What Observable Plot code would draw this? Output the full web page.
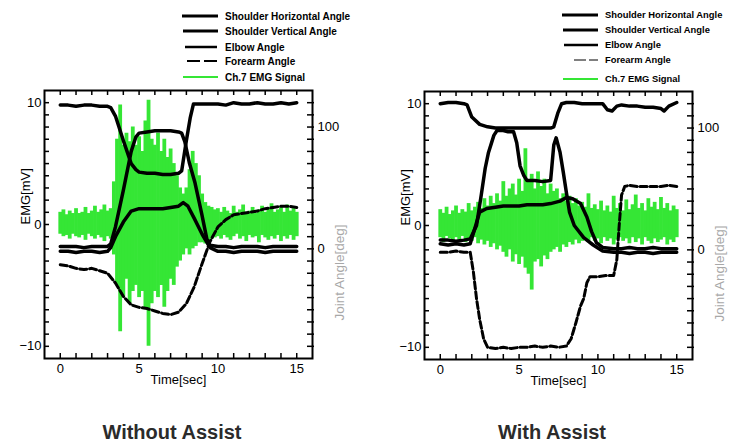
<!DOCTYPE html>
<html>
<head>
<meta charset="utf-8">
<script src="https://cdn.jsdelivr.net/npm/d3@7"></script>
<script src="https://cdn.jsdelivr.net/npm/@observablehq/plot@0.6"></script>
<style>
html,body{margin:0;padding:0;background:#fff}
#root{position:relative;width:733px;height:444px;overflow:hidden;font-family:"Liberation Sans",Arial,Helvetica,sans-serif}
#root svg{position:absolute}
</style>
</head>
<body>
<div id="root"></div>
<script>
// ---------------- text ----------------
const legendLabels = ["Shoulder Horizontal Angle", "Shoulder Vertical Angle", "Elbow Angle", "Forearm Angle", "Ch.7 EMG Signal"];
const captions = ["Without Assist", "With Assist"];
const emgTitle = "EMG[mV]";
const angleTitle = "Joint Angle[deg]";
const timeTitle = "Time[sec]";
const timeTickLabels = [0, 5, 10, 15];
const emgTickLabels = [-10, 0, 10];
const angleTickLabels = [0, 100];

// ---------------- Without Assist: joint angles [deg] ----------------
const woShHT = [0,0.5,1,1.5,2,2.5,3,3.2,3.5,4,4.5,4.8,5,5.5,6,6.5,7,7.5,7.7,8,8.25,8.45,9,9.5,10,10.5,11,11.5,12,12.5,13,13.5,14,14.5,15];
const woShH  = [118,118,117,118,118,117,117,116,109,89,70,65,63,62,62,61,61,62,64,89,108,119,119,119,119,118,120,119,119,120,119,119,120,119,120];
const woShVT = [0,0.5,1,1.5,2,2.5,3,3.2,3.5,4,4.5,5,5.5,6,6.5,7,7.5,7.8,8.1,8.5,9,9.5,10,10.5,11,11.5,12,12.5,13,13.5,14,14.5,15];
const woShV  = [-2,-2,-3,-2,-2,-3,-2,1,10,22,31,33,33,33,33,34,35,38,35,25,12,1,-2,-2,-3,-2,-2,-2,-3,-2,-2,-2,-2];
const woElbT = [0,0.5,1,1.5,2,2.5,3,3.2,3.5,4,4.5,4.8,5,5.5,6,6.5,7,7.5,7.7,7.9,8.2,8.55,8.97,9.3,9.5,10,10.5,11,11.5,12,12.5,13,13.5,14,14.5,15];
const woElb  = [2,2,2,1,2,2,2,4,18,48,80,92,95,96,97,97,97,96,95,88,70,54,29,8,3,2,2,1,2,2,2,1,2,2,2,2];
const woForT = [0,0.5,1,1.5,2,2.5,3,3.5,4,4.5,5,5.5,6,6.5,7,7.5,8,8.5,9,9.5,10,10.5,11,11.5,12,12.5,13,13.5,14,14.5,15];
const woFor  = [-13,-14,-16,-17,-16,-18,-20,-28,-39,-46,-48,-49,-51,-53,-54,-52,-45,-31,-12,6,18,24,28,29,30,31,33,34,35,35,34];

// ---------------- With Assist: joint angles [deg] ----------------
const wShHT = [0,0.5,1,1.5,1.7,2,2.5,3,3.5,4,4.5,5,5.5,6,6.5,7,7.2,7.45,7.7,8,8.5,9,9.5,10,10.3,10.6,10.9,11.2,11.5,12,12.5,13,13.5,14,14.2,14.5,15];
const wShH  = [120,121,121,120,119,109,103,101,100,100,100,100,100,100,100,100,101,112,120,121,121,120,120,120,120,115,114,118,119,118,118,117,117,116,114,118,121];
const wShVT = [0,0.5,1,1.5,1.9,2.2,2.5,2.95,3.5,4,4.5,5,5.5,6,6.5,7,7.6,8,8.4,8.9,9.3,9.6,9.9,10.3,11,11.5,12,12.5,13,13.5,14,14.5,15];
const wShV  = [5,4,5,4,5,18,31,34,35,36,36,36,37,37,37,38,40,43,42,38,27,15,6,2,1,1,2,1,1,2,1,1,1];
const wElbT = [0,0.5,1,1.5,1.9,2.3,2.6,2.85,3.06,3.4,3.6,4,4.3,4.65,4.85,5.06,5.3,5.5,6,6.5,7,7.07,7.2,7.35,7.6,7.8,8,8.2,8.5,9.1,9.7,10.3,11,11.5,12,12.5,13,13.5,14,14.5,15];
const wElb  = [8,8,7,8,9,20,45,67,80,94,98,98,97,97,88,69,61,57,57,56,57,67,86,92,80,64,47,31,20,10,4,-1,-2,-2,-3,-2,-2,-3,-2,-2,-2];
const wForT = [0,0.5,1,1.5,1.9,2.1,2.3,2.5,2.75,3,3.5,4,4.5,5,5.5,6,6.5,7,7.5,8,8.3,8.6,8.9,9.1,9.3,9.5,10,10.5,11,11.2,11.35,11.5,11.7,12,12.5,13,13.5,14,14.5,15];
const wFor  = [-2,-2,-1,-2,-2,-18,-40,-57,-73,-80,-81,-80,-81,-80,-80,-79,-80,-79,-80,-79,-73,-60,-46,-40,-27,-22,-22,-21,-21,-8,20,45,52,53,52,52,52,52,53,52];

// ---------------- Ch.7 EMG envelope [mV], sampled every 0.2 s ----------------
const emgTime = [0,0.2,0.4,0.6,0.8,1,1.2,1.4,1.6,1.8,2,2.2,2.4,2.6,2.8,3,3.2,3.4,3.6,3.8,4,4.2,4.4,4.6,4.8,5,5.2,5.4,5.6,5.8,6,6.2,6.4,6.6,6.8,7,7.2,7.4,7.6,7.8,8,8.2,8.4,8.6,8.8,9,9.2,9.4,9.6,9.8,10,10.2,10.4,10.6,10.8,11,11.2,11.4,11.6,11.8,12,12.2,12.4,12.6,12.8,13,13.2,13.4,13.6,13.8,14,14.2,14.4,14.6,14.8,15];
const woEmgHi = [1.0,1.2,0.8,1.1,0.9,1.3,0.9,1.0,1.4,0.9,1.1,1.5,1.0,1.2,1.6,1.1,1.3,3.5,7.0,9.8,6.5,7.5,6.8,8.0,6.5,7.2,6.0,8.5,10.2,7.0,6.5,7.5,6.0,7.0,5.5,6.2,5.0,4.0,3.0,2.5,3.0,4.5,6.0,5.0,4.0,2.5,1.8,1.5,1.4,1.2,1.3,1.0,1.4,1.1,0.9,1.5,1.0,1.2,1.6,1.0,1.1,1.4,0.9,1.2,1.5,1.0,1.3,1.7,1.0,1.2,1.4,1.0,1.6,1.1,1.3,1.0];
const woEmgLo = [-0.8,-1.0,-0.9,-1.2,-0.8,-1.0,-1.1,-0.9,-1.3,-0.8,-1.0,-1.2,-0.9,-1.1,-1.4,-1.0,-1.2,-2.5,-5.0,-8.8,-6.0,-4.5,-6.5,-5.5,-5.0,-6.0,-5.5,-7.0,-10.0,-6.5,-5.5,-6.0,-5.0,-6.8,-5.5,-4.5,-5.0,-3.5,-3.0,-2.5,-2.0,-2.5,-2.0,-1.8,-1.5,-1.5,-1.6,-1.4,-1.2,-1.1,-1.0,-1.2,-0.9,-1.1,-1.3,-1.0,-0.8,-1.2,-1.0,-1.4,-0.9,-1.1,-1.0,-1.5,-0.9,-1.1,-1.3,-1.0,-1.2,-0.9,-1.4,-1.0,-1.2,-0.9,-1.3,-1.0];
const wEmgHi = [1.3,1.0,1.5,0.9,1.2,1.6,1.0,1.3,1.1,1.8,1.2,1.5,1.9,1.4,2.2,1.6,2.4,1.8,2.6,2.0,3.6,2.4,3.0,3.4,2.5,3.8,2.8,6.3,3.6,4.2,3.0,4.4,3.2,3.8,2.6,3.4,2.8,3.0,2.2,2.6,2.0,2.4,1.8,2.2,1.6,1.9,1.5,2.6,1.4,1.7,1.3,2.0,1.2,1.6,1.1,2.4,1.4,1.8,1.2,2.1,1.3,1.7,2.5,1.4,1.8,1.2,2.2,1.5,1.9,1.3,2.3,1.4,1.8,1.2,1.6,1.3];
const wEmgLo = [-1.0,-1.4,-0.9,-1.1,-1.3,-1.0,-1.2,-0.9,-1.4,-1.1,-1.3,-1.0,-1.5,-1.2,-1.6,-1.3,-1.8,-1.5,-2.0,-1.7,-2.2,-2.6,-2.0,-3.0,-2.4,-3.2,-2.6,-3.5,-4.0,-5.3,-3.0,-2.8,-3.4,-2.5,-2.8,-2.2,-2.0,-1.8,-2.2,-1.6,-1.8,-1.4,-1.6,-1.2,-1.5,-1.3,-1.1,-1.4,-1.0,-1.3,-1.1,-1.5,-1.0,-1.3,-1.1,-1.6,-1.2,-1.0,-1.3,-1.1,-1.5,-1.0,-1.4,-1.1,-1.6,-1.0,-1.3,-1.5,-1.1,-1.4,-1.2,-1.0,-1.6,-1.2,-1.4,-1.0];

// ---------------- drawing ----------------
const root = document.getElementById("root");
const FONT = '"Liberation Sans", Arial, Helvetica, sans-serif';
const GREEN = "#35e635";
const W = 360, H = 400, ML = 44, MR = 48, MT = 90, MB = 42;
const IW = W - ML - MR, IH = H - MT - MB;
const timeMinor = d3.range(0, 16, 1);
const emgMinor = d3.range(-10, 11, 1);
const angleMinor = d3.range(-80, 130, 10);

function put(node, left, top) {
  node.style.left = left + "px";
  node.style.top = top + "px";
  root.appendChild(node);
}

function emgPlot(hi, lo) {
  const rows = emgTime.map((t, i) => ({t, hi: hi[i], lo: lo[i]}));
  return Plot.plot({
    width: W, height: H, marginLeft: ML, marginRight: MR, marginTop: MT, marginBottom: MB,
    style: {background: "transparent", fontFamily: FONT, fontSize: "13px", color: "#000", overflow: "visible"},
    x: {domain: [-1, 16], axis: null},
    y: {domain: [-11, 11], axis: null},
    marks: [
      Plot.ruleX(rows, {x: "t", y1: "lo", y2: "hi", stroke: GREEN, strokeWidth: 3.8}),
      Plot.tickY(emgMinor, {y: d => d, insetRight: IW - 5, stroke: "#000", strokeWidth: 1.5}),
      Plot.tickX(timeMinor, {x: d => d, insetTop: IH - 5, stroke: "#000", strokeWidth: 1.5}),
      Plot.tickX(timeMinor, {x: d => d, insetBottom: IH - 5, stroke: "#000", strokeWidth: 1.5}),
      Plot.axisY({anchor: "left", ticks: emgTickLabels, tickSize: 0, tickPadding: 3, label: null, fontSize: 13}),
      Plot.axisX({anchor: "bottom", ticks: timeTickLabels, tickSize: 0, tickPadding: 5, label: null, fontSize: 13}),
      Plot.text([emgTitle], {text: d => d, frameAnchor: "left", rotate: -90, dx: -19, fontSize: 13, fill: "#000"}),
      Plot.text([timeTitle], {text: d => d, frameAnchor: "bottom", dy: 25, fontSize: 13, fill: "#000"}),
      Plot.frame({stroke: "#000", strokeWidth: 2})
    ]
  });
}

function anglePlot(s) {
  const solid = {stroke: "#000", strokeWidth: 3.5, strokeLinejoin: "round", strokeLinecap: "round"};
  return Plot.plot({
    width: W, height: H, marginLeft: ML, marginRight: MR, marginTop: MT, marginBottom: MB,
    style: {background: "transparent", fontFamily: FONT, fontSize: "13px", color: "#000", overflow: "visible"},
    x: {domain: [-1, 16], axis: null},
    y: {domain: [-90, 130], axis: null},
    marks: [
      Plot.line(s.forV, {x: s.forT, y: s.forV, stroke: "#000", strokeWidth: 3, strokeDasharray: "7,3"}),
      Plot.line(s.shVV, {x: s.shVT, y: s.shVV, ...solid}),
      Plot.line(s.elbV, {x: s.elbT, y: s.elbV, ...solid}),
      Plot.line(s.shHV, {x: s.shHT, y: s.shHV, ...solid}),
      Plot.tickY(angleMinor, {y: d => d, insetLeft: IW - 5, insetRight: -2, stroke: "#000", strokeWidth: 1.5}),
      Plot.axisY({anchor: "right", ticks: angleTickLabels, tickSize: 0, tickPadding: 5, label: null, fontSize: 13}),
      Plot.text([angleTitle], {text: d => d, frameAnchor: "right", rotate: -90, dx: 27, fontSize: 13.5, fill: "#a8a8a8"})
    ]
  });
}

const panels = [
  {left: 0, top: 0, hi: woEmgHi, lo: woEmgLo,
   s: {shHT: woShHT, shHV: woShH, shVT: woShVT, shVV: woShV, elbT: woElbT, elbV: woElb, forT: woForT, forV: woFor}},
  {left: 380, top: 1, hi: wEmgHi, lo: wEmgLo,
   s: {shHT: wShHT, shHV: wShH, shVT: wShVT, shVV: wShV, elbT: wElbT, elbV: wElb, forT: wForT, forV: wFor}}
];
for (const p of panels) {
  put(emgPlot(p.hi, p.lo), p.left, p.top);
  put(anglePlot(p.s), p.left, p.top);
}

// legends and captions
const legendStyles = [
  {tx: 225, fs: 10, rows: [16, 31, 47, 61, 77],
   lines: [[182,218,3,null,"#000"],[183,218,3,null,"#000"],[185,217,2.5,null,"#000"],[187,218,2,"13,4","#000"],[183,218,2,null,GREEN]]},
  {tx: 605, fs: 9.4, rows: [15, 30, 45, 60, 79],
   lines: [[562,598,3,null,"#000"],[563,598,3,null,"#000"],[564,598,2.5,null,"#000"],[574,598,1,"12,3","#000"],[563,598,2,null,GREEN]]}
];
const over = d3.create("svg").attr("width", 733).attr("height", 444).style("left", "0px").style("top", "0px")
  .style("font-family", FONT);
legendStyles.forEach(ls => {
  legendLabels.forEach((lab, i) => {
    const [x0, x1, w, dash, col] = ls.lines[i];
    over.append("line").attr("x1", x0).attr("x2", x1).attr("y1", ls.rows[i]).attr("y2", ls.rows[i])
      .attr("stroke", col).attr("stroke-width", w).attr("stroke-dasharray", dash);
    over.append("text").attr("x", ls.tx).attr("y", ls.rows[i]).attr("dy", "0.35em")
      .attr("font-size", ls.fs).attr("font-weight", "bold").attr("fill", "#000").text(lab);
  });
});
[[172, captions[0]], [552, captions[1]]].forEach(([cx, c]) => {
  over.append("text").attr("x", cx).attr("y", 439).attr("text-anchor", "middle")
    .attr("font-size", 20).attr("font-weight", "bold").attr("fill", "#2b2b2b").text(c);
});
root.appendChild(over.node());
</script>
</body>
</html>
